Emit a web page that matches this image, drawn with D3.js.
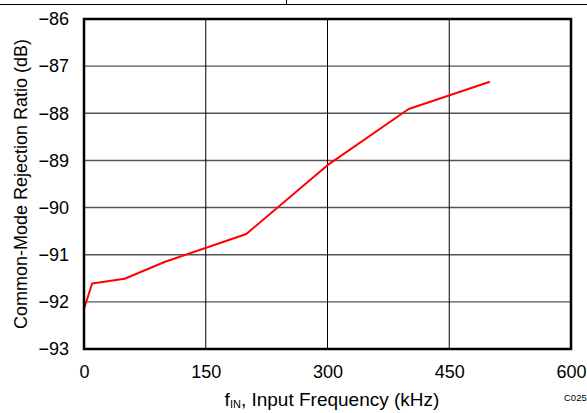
<!DOCTYPE html>
<html>
<head>
<meta charset="utf-8">
<script src="https://cdn.jsdelivr.net/npm/d3@7"></script>
<style>
  body { margin: 0; background: #fff; }
  text { font-family: "Liberation Sans", Arial, sans-serif; }
</style>
</head>
<body>
<div id="chart"></div>
<script>
// values
var freqKHz = [0, 10, 50, 100, 200, 300, 400, 500]
var cmrrDB = [-92.15, -91.61, -91.51, -91.15, -90.56, -89.1, -87.91, -87.33]
var xTicks = [0, 150, 300, 450, 600]
var yTicks = [-86, -87, -88, -89, -90, -91, -92, -93]

var width = 587, height = 413
var margin = {top: 19, right: 16, bottom: 64, left: 84}
var plotW = width - margin.left - margin.right
var plotH = height - margin.top - margin.bottom

var svg = d3.select("#chart").append("svg")
    .attr("width", width)
    .attr("height", height)

// fragment of table border at top of page
svg.append("line").attr("x1", 0).attr("x2", width).attr("y1", 4.5).attr("y2", 4.5)
    .attr("stroke", "#000").attr("stroke-width", 1.2)
svg.append("line").attr("x1", 286.5).attr("x2", 286.5).attr("y1", 0).attr("y2", 4.5)
    .attr("stroke", "#000").attr("stroke-width", 1)

var g = svg.append("g")
    .attr("transform", "translate(" + margin.left + "," + margin.top + ")")

var x = d3.scaleLinear().domain([0, 600]).range([0, plotW])
var y = d3.scaleLinear().domain([-93, -86]).range([plotH, 0])

// grid
g.append("g")
  .selectAll("line")
  .data(yTicks.slice(1, -1))
  .join("line")
    .attr("x1", 0).attr("x2", plotW)
    .attr("y1", d => y(d)).attr("y2", d => y(d))
    .attr("stroke", "#555").attr("stroke-width", 1.4)

g.append("g")
  .selectAll("line")
  .data(xTicks.slice(1, -1))
  .join("line")
    .attr("x1", d => x(d)).attr("x2", d => x(d))
    .attr("y1", 0).attr("y2", plotH)
    .attr("stroke", "#000").attr("stroke-width", 1)

// axes labels
var fmt = d => String(d).replace("-", "\u2212")
var yAxis = g.append("g")
    .call(d3.axisLeft(y).tickValues(yTicks).tickSize(0).tickPadding(15).tickFormat(fmt))
yAxis.select(".domain").remove()
yAxis.selectAll("text").attr("font-size", 18).attr("fill", "#000")
    .attr("font-family", "Liberation Sans, Arial, sans-serif")

var xAxis = g.append("g")
    .attr("transform", "translate(0," + plotH + ")")
    .call(d3.axisBottom(x).tickValues(xTicks).tickSize(0).tickPadding(16))
xAxis.select(".domain").remove()
xAxis.selectAll("text").attr("font-size", 18).attr("fill", "#000")
    .attr("font-family", "Liberation Sans, Arial, sans-serif")

// the curve
var line = d3.line()
    .x((d, i) => x(freqKHz[i]))
    .y(d => y(d))
g.append("path")
    .datum(cmrrDB)
    .attr("fill", "none")
    .attr("stroke", "#ff0000")
    .attr("stroke-width", 2)
    .attr("stroke-linejoin", "round")
    .attr("d", line)

// frame
g.append("rect")
    .attr("width", plotW).attr("height", plotH)
    .attr("fill", "none").attr("stroke", "#000").attr("stroke-width", 2.5)

// titles
svg.append("text")
    .attr("transform", "translate(27," + (margin.top + plotH / 2) + ") rotate(-90)")
    .attr("text-anchor", "middle")
    .attr("font-size", 18)
    .text("Common-Mode Rejection Ratio (dB)")

var xt = svg.append("text")
    .attr("x", 332)
    .attr("y", 405.5)
    .attr("text-anchor", "middle")
    .attr("font-size", 19)
xt.append("tspan").text("f")
xt.append("tspan").attr("font-size", 11).attr("dy", 2.5).text("IN")
xt.append("tspan").attr("dy", -2.5).text(", Input Frequency (kHz)")

svg.append("text")
    .attr("x", 564).attr("y", 400.5)
    .attr("font-size", 9.5)
    .text("C025")
</script>
</body>
</html>
